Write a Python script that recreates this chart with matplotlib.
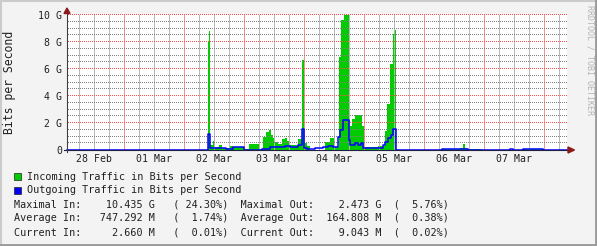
import numpy as np
import matplotlib
matplotlib.use("Agg")
import matplotlib.pyplot as plt
from matplotlib.patches import Rectangle, Polygon
from matplotlib.lines import Line2D

W, H = 597, 246

# hours since 28 Feb 00:00 -> traffic in Gbit/s (step values)
in_hours = [1.1, 57.5, 57.9, 58.3, 59.5, 60.3, 61.9, 63.1, 65.9, 67.5,
            71.9, 73.9, 77.9, 79.5, 80.7, 81.9, 82.7, 83.5, 84.3, 85.5,
            87.1, 88.3, 89.1, 90.3, 93.5, 95.1, 95.9, 97.1, 98.3, 104.3,
            106.3, 108.3, 109.9, 110.7, 111.9, 113.9, 114.3, 115.1, 116.3, 119.1,
            119.9, 125.5, 128.3, 129.1, 130.3, 131.5, 131.9, 132.7, 151.1, 158.3,
            159.5, 160.3, 161.1, 167.1, 183.5, 191.5, 201.1]
in_gbps = [0.0, 8.0, 8.8, 0.35, 0.7, 0.2, 0.35, 0.15, 0.3, 0.25,
           0.08, 0.45, 0.1, 1.0, 1.3, 1.45, 1.1, 0.9, 0.6, 0.45,
           0.85, 0.9, 0.65, 0.37, 0.85, 6.7, 0.55, 0.3, 0.03, 0.6,
           0.9, 0.2, 6.9, 9.6, 10.4, 4.8, 1.8, 2.3, 2.6, 1.8,
           0.25, 0.3, 1.4, 3.4, 6.4, 8.6, 8.9, 0.02, 0.05, 0.15,
           0.44, 0.15, 0.05, 0.02, 0.05, 0.02, 0.02]

out_hours = [1.1, 57.3, 58.1, 64.7, 67.5, 71.9, 79.1, 82.3, 85.5, 88.3,
             90.3, 93.5, 94.9, 95.9, 97.1, 100.3, 103.5, 105.5, 107.5, 109.5,
             110.3, 111.5, 113.7, 114.3, 116.3, 117.5, 118.7, 119.5, 127.5, 128.3,
             129.5, 130.7, 131.5, 132.5, 151.1, 161.5, 178.3, 179.5, 183.5, 191.5,
             201.1]
out_gbps = [0.0, 1.2, 0.12, 0.05, 0.25, 0.02, 0.1, 0.2, 0.25, 0.3,
            0.25, 0.37, 1.55, 0.12, 0.05, 0.12, 0.25, 0.32, 0.25, 1.0,
            1.5, 2.2, 0.75, 0.35, 0.5, 0.4, 0.5, 0.17, 0.37, 0.6,
            0.9, 1.1, 1.55, 0.01, 0.05, 0.02, 0.05, 0.02, 0.05, 0.01,
            0.01]

day_ticks = [12, 36, 60, 84, 108, 132, 156, 180]
day_labels = ["28 Feb", "01 Mar", "02 Mar", "03 Mar", "04 Mar", "05 Mar", "06 Mar", "07 Mar"]
y_ticks = [0, 2, 4, 6, 8, 10]
y_labels = ["0", "2 G", "4 G", "6 G", "8 G", "10 G"]

legend_rows = [
    ("Incoming Traffic in Bits per Second", "#00cc00"),
    ("Outgoing Traffic in Bits per Second", "#0000ff"),
]
stats_rows = [
    ("Maximal In:", "10.435", "G", 24.30, "Maximal Out:", "2.473", "G", 5.76),
    ("Average In:", "747.292", "M", 1.74, "Average Out:", "164.808", "M", 0.38),
    ("Current In:", "2.660", "M", 0.01, "Current Out:", "9.043", "M", 0.02),
]

plt.rcParams["font.family"] = ["DejaVu Sans Mono"]

fig = plt.figure(figsize=(W / 100, H / 100), dpi=100, facecolor="#f3f3f3")
x0, x1, ytop, ybot = 67, 567, 15, 150
ax = fig.add_axes([x0 / W, 1 - ybot / H, (x1 - x0) / W, (ybot - ytop) / H])
ax.set_facecolor("white")
t0, t1 = 1.08, 201.08
ax.set_xlim(t0, t1)
ax.set_ylim(0, 10)
for s in ax.spines.values():
    s.set_visible(False)

# data
ax.fill_between(in_hours, in_gbps, step="post", color="#00cc00", lw=0, zorder=2)
ax.step(out_hours, out_gbps, where="post", color="#0000ff", lw=1.1, zorder=5,
        clip_on=False)

# vertical grid every 6 hours, red at midnight (thin light lines read as dotted)
for h in range(6, 201, 6):
    col = "#ff9090" if h % 24 == 0 else "#b8b8b8"
    ax.axvline(h, color=col, lw=0.72, ls="-", zorder=3)

# horizontal grid: single pixels every other pixel
hours_per_px = (t1 - t0) / (x1 - x0)
dot_x = np.arange(t0 + hours_per_px, t1, 2 * hours_per_px)
for i in range(1, 21):
    col = "#ff5050" if i % 4 == 0 else "#808080"
    ax.plot(dot_x, np.full(dot_x.size, i * 0.5), ls="none", marker=",",
            color=col, zorder=3, clip_on=False)

ax.set_xticks(day_ticks)
ax.set_xticklabels(day_labels)
ax.set_yticks(y_ticks)
ax.set_yticklabels(y_labels)
ax.tick_params(axis="both", length=0, labelsize=7.1, colors="#202020")
ax.tick_params(axis="x", pad=3.0)
ax.tick_params(axis="y", pad=3.6)

# axis lines with arrows (figure pixels)
def fy(y):
    return H - y

fig.add_artist(Line2D([64, 568], [fy(150), fy(150)], transform=None,
                      color="#202040", lw=0.8, zorder=6))
fig.add_artist(Line2D([67, 67], [fy(152), fy(12)], transform=None,
                      color="#404040", lw=0.8, zorder=6))
fig.add_artist(Polygon([[64, fy(13.5)], [70, fy(13.5)], [67, fy(8)]],
                       closed=True, transform=None, color="#8b1a1a", zorder=7))
fig.add_artist(Polygon([[568, fy(147)], [568, fy(153)], [574.5, fy(150)]],
                       closed=True, transform=None, color="#8b1a1a", zorder=7))

fig.text(10 / W, 1 - 82 / H, "Bits per Second", rotation=90, ha="center",
         va="center", fontsize=8.3, color="#202020")
fig.text(590 / W, 1 - 60 / H, "RRDTOOL / TOBI OETIKER", rotation=270,
         ha="center", va="center", fontsize=6, color="#b4b4b4")

# legend
row_y = [176.8, 190.4, 204.3, 218.3, 232.3]
for (label, col), y in zip(legend_rows, row_y):
    fig.add_artist(Rectangle((13.5 / W, 1 - (y + 3.5) / H), 7 / W, 7 / H,
                             transform=fig.transFigure, facecolor=col,
                             edgecolor="#202020", lw=0.5))
    fig.text(27 / W, 1 - y / H, label, ha="left", va="center",
             fontsize=7.3, color="#202020")

for row, y in zip(stats_rows, row_y[2:]):
    lin, vin, uin, pin, lout, vout, uout, pout = row
    line = (f"{lin:<14}{vin:>7} {uin}   ({pin:6.2f}%)  "
            f"{lout:<14}{vout:>7} {uout}  ({pout:6.2f}%)")
    fig.text(14 / W, 1 - y / H, line, ha="left", va="center",
             fontsize=7.3, color="#202020")

# frame shading
fig.add_artist(Line2D([0, W], [H - 0.5, H - 0.5], transform=None, color="#cbcbcb", lw=1.5))
fig.add_artist(Line2D([0.5, 0.5], [0, H], transform=None, color="#cbcbcb", lw=1.5))
fig.add_artist(Line2D([0, W], [1, 1], transform=None, color="#999999", lw=2))
fig.add_artist(Line2D([W - 1, W - 1], [0, H], transform=None, color="#999999", lw=2))

fig.savefig("out.png", dpi=100, facecolor=fig.get_facecolor())
